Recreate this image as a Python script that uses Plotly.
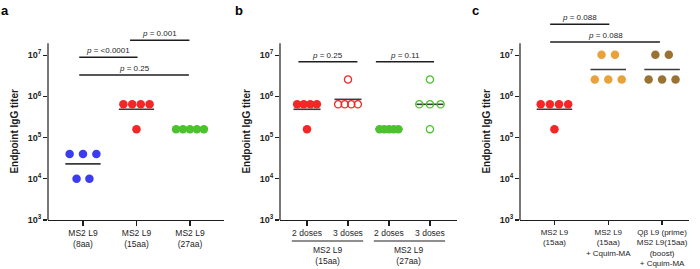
import numpy as np
import plotly.graph_objects as go

W, H = 700, 269


def px2x(px):
    return px / W


def py2y(py):
    return (H - py) / H


# ---------------- data ----------------
a_cats = ["MS2 L9<br>(8aa)", "MS2 L9<br>(15aa)", "MS2 L9<br>(27aa)"]
a_8aa = [40000, 40000, 40000, 10000, 10000]
a_15aa = [640000, 640000, 640000, 640000, 160000]
a_27aa = [160000, 160000, 160000, 160000, 160000]

b_cats = ["2 doses", "3 doses", "2 doses", "3 doses"]
b_groups = ["MS2 L9<br>(15aa)", "MS2 L9<br>(27aa)"]
b_15aa_2 = [640000, 640000, 640000, 640000, 160000]
b_15aa_3 = [2560000, 640000, 640000, 640000, 640000]
b_27aa_2 = [160000, 160000, 160000, 160000, 160000]
b_27aa_3 = [2560000, 640000, 640000, 640000, 160000]

c_cats = ["MS2 L9<br>(15aa)", "MS2 L9<br>(15aa)<br>+ Cquim-MA",
          "Qβ L9 (prime)<br>MS2 L9(15aa)<br>(boost)<br>+ Cquim-MA"]
c_ms2 = [640000, 640000, 640000, 640000, 160000]
c_ms2_cq = [10240000, 10240000, 2560000, 2560000, 2560000]
c_qb_cq = [10240000, 10240000, 2560000, 2560000, 2560000]

a_pvals = ["<0.0001", "0.001", "0.25"]
b_pvals = ["0.25", "0.11"]
c_pvals = ["0.088", "0.088"]

tick_vals = [1e3, 1e4, 1e5, 1e6, 1e7]
tick_text = ["<b>10<sup>3</sup></b>", "<b>10<sup>4</sup></b>", "<b>10<sup>5</sup></b>",
             "<b>10<sup>6</sup></b>", "<b>10<sup>7</sup></b>"]

# ---------------- styling / layout ----------------
BLUE = "#3b3bf2"
RED = "#f42626"
GREEN = "#4cc22e"
ORANGE = "#e9a23b"
BROWN = "#9a7233"
MEAN = "#3a3a3a"
INK = "#1e1e1e"
FONT = "Liberation Sans, Arial, sans-serif"

# panel pixel geometry: (x-left, x-right), x-range, tick font size, tick length
panels = {
    "a": dict(px=(48, 224), rng=(-0.654, 2.636), fs=8.5, tl=5),
    "b": dict(px=(280, 457), rng=(-0.659, 3.66), fs=8.5, tl=5),
    "c": dict(px=(520, 689), rng=(-0.64, 2.5), fs=8, tl=4),
}
Y_RANGE = (3, 7.9)
Y_AXIS_TOP = 7.29
ydom = (py2y(220), py2y(18))

# groups: (panel, category index, values, x offsets, color, filled)
groups = [
    ("a", 0, a_8aa, [-0.25, 0, 0.25, -0.12, 0.12], BLUE, True),
    ("a", 1, a_15aa, [-0.245, -0.08, 0.08, 0.245, 0], RED, True),
    ("a", 2, a_27aa, [-0.26, -0.13, 0, 0.13, 0.26], GREEN, True),
    ("b", 0, b_15aa_2, [-0.24, -0.08, 0.08, 0.24, 0], RED, True),
    ("b", 1, b_15aa_3, [0, -0.24, -0.08, 0.08, 0.24], RED, False),
    ("b", 2, b_27aa_2, [-0.23, -0.115, 0, 0.115, 0.23], GREEN, True),
    ("b", 3, b_27aa_3, [0, -0.26, 0, 0.26, 0], GREEN, False),
    ("c", 0, c_ms2, [-0.255, -0.085, 0.085, 0.255, 0], RED, True),
    ("c", 1, c_ms2_cq, [-0.125, 0.125, -0.25, 0, 0.25], ORANGE, True),
    ("c", 2, c_qb_cq, [-0.125, 0.125, -0.25, 0, 0.25], BROWN, True),
]

# significance brackets: (panel, x0, x1, y(log10), p text)
brackets = [
    ("a", -0.07, 1.02, 6.95, a_pvals[0]),
    ("a", 0.88, 1.99, 7.36, a_pvals[1]),
    ("a", -0.07, 1.98, 6.52, a_pvals[2]),
    ("b", -0.21, 1.23, 6.84, b_pvals[0]),
    ("b", 1.68, 3.10, 6.84, b_pvals[1]),
    ("c", -0.08, 1.02, 7.75, c_pvals[0]),
    ("c", -0.08, 1.96, 7.32, c_pvals[1]),
]

axid = {"a": ("x", "y"), "b": ("x2", "y2"), "c": ("x3", "y3")}

fig = go.Figure()

# mean lines (geometric mean) first, then points
for p, ci, vals, offs, col, filled in groups:
    xa, ya = axid[p]
    gm = float(np.exp(np.mean(np.log(vals))))
    fig.add_trace(go.Scatter(x=[ci - 0.33, ci + 0.33], y=[gm, gm], mode="lines",
                             line=dict(color=MEAN, width=1.6), xaxis=xa, yaxis=ya,
                             showlegend=False, hoverinfo="skip"))
for p, ci, vals, offs, col, filled in groups:
    xa, ya = axid[p]
    xs = [ci + o for o in offs]
    if filled:
        marker = dict(color=col, size=8.5, line=dict(width=0))
    else:
        marker = dict(color=col, size=7.2, symbol="circle-open", line=dict(width=1.3, color=col))
    fig.add_trace(go.Scatter(x=xs, y=vals, mode="markers", marker=marker,
                             xaxis=xa, yaxis=ya, showlegend=False))

layout = dict(width=W, height=H, margin=dict(l=0, r=0, t=0, b=0),
              paper_bgcolor="white", plot_bgcolor="white",
              font=dict(family=FONT, color=INK), showlegend=False)

cat_text = {"a": a_cats, "b": b_cats, "c": c_cats}
shapes, annotations = [], []
for i, (p, g) in enumerate(panels.items()):
    sfx = "" if i == 0 else str(i + 1)
    x0p, x1p = g["px"]
    cats = cat_text[p]
    layout["xaxis" + sfx] = dict(
        domain=[px2x(x0p), px2x(x1p)], range=list(g["rng"]), anchor="y" + sfx,
        tickvals=list(range(len(cats))), ticktext=cats, ticks="outside", ticklen=g["tl"],
        tickwidth=1.2, tickcolor=INK, showline=True, linecolor=INK, linewidth=1.2,
        showgrid=False, zeroline=False, tickfont=dict(size=g["fs"], family=FONT, color=INK),
        fixedrange=True, automargin=False)
    layout["yaxis" + sfx] = dict(
        domain=list(ydom), type="log", range=list(Y_RANGE), anchor="x" + sfx,
        tickvals=tick_vals, ticktext=tick_text, ticks="outside", ticklen=4,
        tickwidth=1.2, tickcolor=INK, showline=False, showgrid=False, zeroline=False,
        tickfont=dict(size=9, family=FONT, color=INK), fixedrange=True, automargin=False)
    xa, ya = axid[p]
    # y axis line (only up to just above 10^7); shapes on log axes take data values
    shapes.append(dict(type="line", xref=xa + " domain", yref=ya, x0=0, x1=0,
                       y0=10 ** Y_RANGE[0], y1=10 ** Y_AXIS_TOP,
                       line=dict(color=INK, width=1.2)))
    # y title
    annotations.append(dict(text="<b>Endpoint IgG titer</b>", xref="paper", yref=ya,
                            x=px2x(x0p - 33), y=(Y_RANGE[0] + Y_AXIS_TOP) / 2,
                            textangle=-90, showarrow=False, xanchor="center", yanchor="middle",
                            font=dict(size=10, family=FONT, color=INK)))

# panel letters
for letter, xpx in [("a", 5), ("b", 239), ("c", 475)]:
    annotations.append(dict(text="<b>%s</b>" % letter, xref="paper", yref="paper",
                            x=px2x(xpx), y=py2y(10), showarrow=False,
                            xanchor="center", yanchor="middle",
                            font=dict(size=13, family=FONT, color="black")))

# significance brackets
for p, bx0, bx1, by, txt in brackets:
    xa, ya = axid[p]
    shapes.append(dict(type="line", xref=xa, yref=ya, x0=bx0, x1=bx1,
                       y0=10 ** by, y1=10 ** by, line=dict(color=INK, width=1.5)))
    annotations.append(dict(text="<i>p</i> = " + txt.replace("<", "&lt;"), xref=xa, yref=ya,
                            x=(bx0 + bx1) / 2, y=by, showarrow=False,
                            xanchor="center", yanchor="bottom", yshift=0,
                            font=dict(size=8, family=FONT, color=INK)))

# panel b grouping lines and labels
rb = panels["b"]["rng"]
for gi, glabel in enumerate(b_groups):
    centre = 0.5 + 2 * gi
    lx0, lx1 = centre - 0.87, centre + 0.87
    shapes.append(dict(type="line", xref="x2 domain", yref="paper",
                       x0=(lx0 - rb[0]) / (rb[1] - rb[0]), x1=(lx1 - rb[0]) / (rb[1] - rb[0]),
                       y0=py2y(241), y1=py2y(241), line=dict(color=INK, width=1.2)))
    annotations.append(dict(text=glabel, xref="x2", yref="paper", x=centre,
                            y=py2y(242.5), showarrow=False, xanchor="center", yanchor="top",
                            font=dict(size=8.5, family=FONT, color=INK)))

layout["shapes"] = shapes
layout["annotations"] = annotations
fig.update_layout(**layout)
fig.write_html("out.html", config={"displayModeBar": False, "staticPlot": True},
               post_script="document.body.style.margin='0px';document.body.style.overflow='hidden';")
